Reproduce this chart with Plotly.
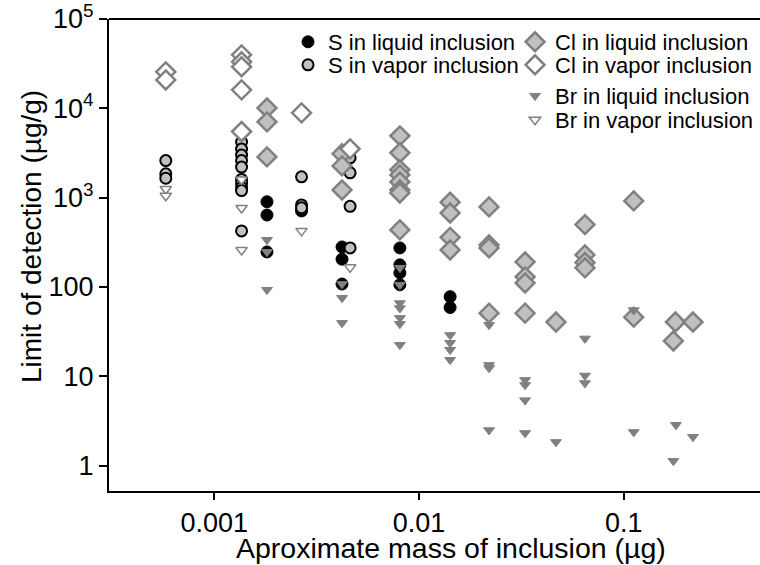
import plotly.graph_objects as go

# ---- data (approximate inclusion mass in ug, limit of detection in ug/g) ----
s_liq_x = [0.00181, 0.00181, 0.00181, 0.00267, 0.00421, 0.00421, 0.00421,
           0.00807, 0.00807, 0.00807, 0.00807, 0.00807, 0.0142, 0.0142]
s_liq_y = [900, 640, 247, 710, 281, 205, 108, 459, 274, 177, 144, 106, 78, 59]

s_vap_x = [0.00058, 0.00058, 0.00058,
           0.00136, 0.00136, 0.00136, 0.00136, 0.00136, 0.00136, 0.00136, 0.00136, 0.00136, 0.00136,
           0.00267, 0.00267, 0.00267,
           0.00461, 0.00461, 0.00461, 0.00461]
s_vap_y = [2600, 1850, 1650,
           4200, 3500, 3000, 2600, 2200, 1600, 1450, 1300, 1200, 425,
           1710, 830, 770,
           2790, 1900, 800, 274]

cl_liq_x = [0.00181, 0.00181, 0.00181,
            0.00421, 0.00421, 0.00421,
            0.00807, 0.00807, 0.00807, 0.00807, 0.00807, 0.00807, 0.00807, 0.00807,
            0.0142, 0.0142, 0.0142, 0.0142,
            0.0220, 0.0220, 0.0220, 0.0220,
            0.0330, 0.0330, 0.0330, 0.0330,
            0.0467,
            0.0647, 0.0647, 0.0647, 0.0647,
            0.112, 0.112,
            0.179, 0.175,
            0.218]
cl_liq_y = [10100, 7060, 2860,
            3100, 2270, 1220,
            4920, 3180, 2050, 1800, 1500, 1220, 1130, 436,
            890, 675, 360, 260,
            789, 296, 274, 51,
            191, 130, 111, 51,
            40.6,
            500, 229, 188, 164,
            920, 46,
            40.6, 24.9,
            40.6]

cl_vap_x = [0.00058, 0.00058, 0.00136, 0.00136, 0.00136, 0.00136, 0.00136, 0.00267, 0.00461]
cl_vap_y = [25600, 20800, 39700, 33200, 29200, 16100, 5500, 8900, 3520]

br_liq_x = [0.00181, 0.00181, 0.00181,
            0.00421, 0.00421, 0.00421,
            0.00807, 0.00807, 0.00807, 0.00807, 0.00807, 0.00807, 0.00807,
            0.0142, 0.0142, 0.0142, 0.0142,
            0.0220, 0.0220, 0.0220, 0.0220,
            0.0330, 0.0330, 0.0330, 0.0330,
            0.0467,
            0.0647, 0.0647, 0.0647,
            0.112, 0.112,
            0.180, 0.175,
            0.218]
br_liq_y = [337, 247, 93,
            108, 75.5, 39.6,
            164, 106, 66, 58, 45, 38.6, 22.5,
            29, 23.7, 19.8, 15.3,
            37.6, 13.4, 12.4, 2.5,
            9.1, 8.0, 5.4, 2.32,
            1.84,
            26.5, 10.2, 8.4,
            55, 2.38,
            2.86, 1.13,
            2.1]

br_vap_x = [0.00058, 0.00058, 0.00136, 0.00136, 0.00136, 0.00267, 0.00461]
br_vap_y = [1250, 1050, 1600, 768, 260, 425, 166]

y_tickvals = [1, 10, 100, 1000, 10000, 100000]
y_ticktext = ["1", "10", "100", "10<sup>3</sup>", "10<sup>4</sup>", "10<sup>5</sup>"]
x_tickvals = [0.001, 0.01, 0.1]
x_ticktext = ["0.001", "0.01", "0.1"]

GRAY = "#808080"
LIGHT = "#c0c0c0"
FONT = "Liberation Sans, Arial, sans-serif"

fig = go.Figure()
fig.add_trace(go.Scatter(x=s_liq_x, y=s_liq_y, mode="markers", name="S in liquid inclusion",
                         legend="legend",
                         marker=dict(symbol="circle", size=12, color="black",
                                     line=dict(color="black", width=1))))
fig.add_trace(go.Scatter(x=s_vap_x, y=s_vap_y, mode="markers", name="S in vapor inclusion",
                         legend="legend2",
                         marker=dict(symbol="circle", size=11, color=LIGHT,
                                     line=dict(color="black", width=2))))
fig.add_trace(go.Scatter(x=cl_liq_x, y=cl_liq_y, mode="markers", name="Cl in liquid inclusion",
                         legend="legend3",
                         marker=dict(symbol="diamond", size=14.5, color=LIGHT,
                                     line=dict(color=GRAY, width=2.5))))
fig.add_trace(go.Scatter(x=cl_vap_x, y=cl_vap_y, mode="markers", name="Cl in vapor inclusion",
                         legend="legend4",
                         marker=dict(symbol="diamond", size=14.5, color="white",
                                     line=dict(color=GRAY, width=2.5))))
fig.add_trace(go.Scatter(x=br_liq_x, y=br_liq_y, mode="markers", name="Br in liquid inclusion",
                         legend="legend5",
                         marker=dict(symbol="triangle-down", size=9.5, color=GRAY,
                                     line=dict(color=GRAY, width=1))))
fig.add_trace(go.Scatter(x=br_vap_x, y=br_vap_y, mode="markers", name="Br in vapor inclusion",
                         legend="legend6",
                         marker=dict(symbol="triangle-down", size=10, color="white",
                                     line=dict(color=GRAY, width=1.5))))

L, R, T, B = 109, 0, 19, 74
W, H = 760, 565
pw, ph = W - L - R, H - T - B


def px_x(px):
    return (px - L) / pw


def px_y(py):
    return (H - B - py) / ph


leg_common = dict(font=dict(family=FONT, size=22, color="black"),
                  bgcolor="rgba(0,0,0,0)", borderwidth=0,
                  xanchor="left", yanchor="middle", itemsizing="trace")
legend_pos = [(288, 42), (288, 65), (515, 42), (515, 65), (515, 96), (515, 120)]
legend_layouts = {}
for i, (lx, ly) in enumerate(legend_pos):
    key = "legend" if i == 0 else f"legend{i + 1}"
    legend_layouts[key] = dict(leg_common, x=px_x(lx), y=px_y(ly))

fig.update_layout(
    width=W, height=H,
    margin=dict(l=L, r=R, t=T, b=B, pad=0),
    paper_bgcolor="white", plot_bgcolor="white",
    font=dict(family=FONT, color="black"),
    showlegend=True,
    **legend_layouts,
    xaxis=dict(type="log", range=[-3.514, -0.334], showgrid=False, zeroline=False,
               showline=True, linecolor="black", linewidth=2,
               ticks="outside", ticklen=7, tickwidth=2, tickcolor="black",
               tickvals=x_tickvals, ticktext=x_ticktext,
               tickfont=dict(family=FONT, size=27, color="black")),
    yaxis=dict(type="log", range=[-0.283, 5.0], showgrid=False, zeroline=False,
               showline=True, linecolor="black", linewidth=2,
               ticks="outside", ticklen=8, tickwidth=2, tickcolor="black",
               tickvals=y_tickvals, ticktext=y_ticktext,
               tickfont=dict(family=FONT, size=27, color="black")),
    shapes=[dict(type="line", xref="paper", yref="paper", x0=0, x1=1, y0=1, y1=1,
                 line=dict(color="black", width=2))],
    annotations=[
        dict(text="Aproximate mass of inclusion (µg)", xref="paper", yref="paper",
             x=px_x(451), y=px_y(548), xanchor="center", yanchor="middle",
             showarrow=False, font=dict(family=FONT, size=28.5, color="black")),
        dict(text="Limit of detection (µg/g)", xref="paper", yref="paper",
             x=px_x(31), y=px_y(237), xanchor="center", yanchor="middle",
             textangle=-90, showarrow=False,
             font=dict(family=FONT, size=28, color="black")),
    ],
)

fig.write_html("out.html")
